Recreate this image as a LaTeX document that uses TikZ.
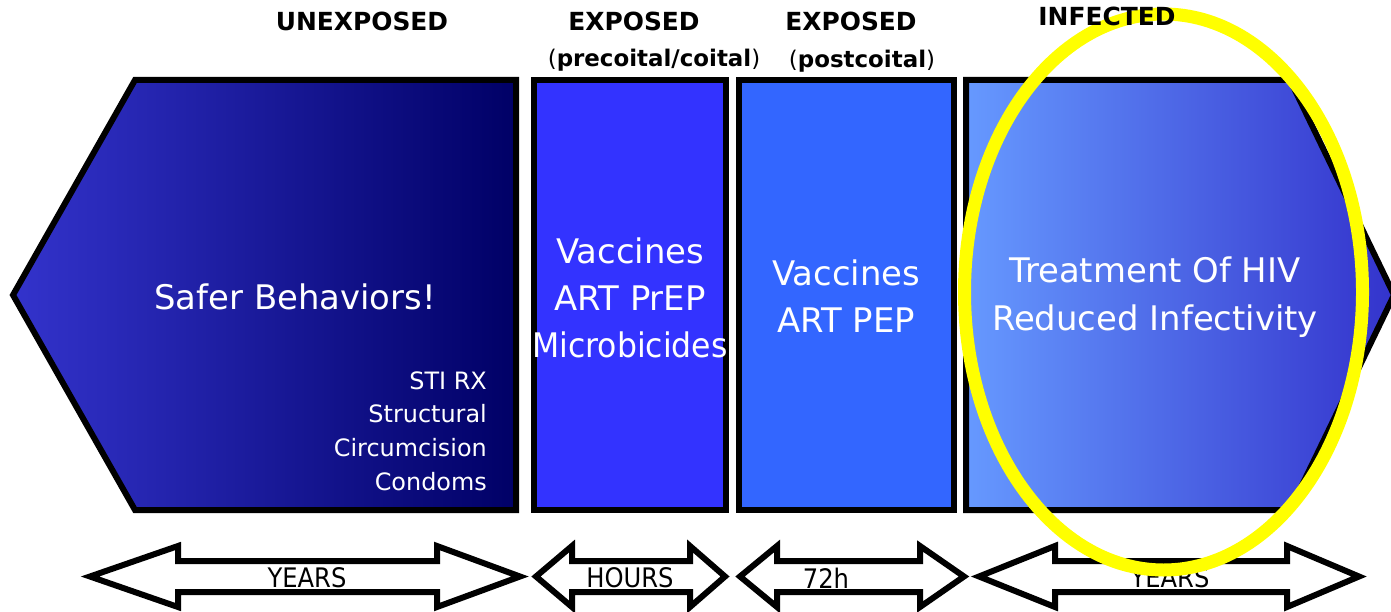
\documentclass[tikz,border=0pt]{standalone}
\usepackage{fontspec}
\setmainfont{DejaVu Sans}
\newfontfamily\condfont{DejaVu Sans Condensed}
\usepackage{tikz}

\definecolor{boxAleft}{HTML}{3333CC}
\definecolor{boxAright}{HTML}{000066}
\definecolor{boxB}{HTML}{3333FF}
\definecolor{boxC}{HTML}{3366FF}
\definecolor{boxDleft}{HTML}{6699FF}
\definecolor{boxDright}{HTML}{3333CC}
\definecolor{marker}{HTML}{FFFF00}

\begin{document}
\begin{tikzpicture}[x=1bp, y=-1bp, line join=miter]
  % Define styles
  \tikzstyle{stage} = [draw=black, line width=6bp]
  \tikzstyle{period} = [draw=black, fill=white, line width=6bp]
  \tikzstyle{phase} = [font=\fontsize{25}{28}\selectfont\bfseries]
  \tikzstyle{when} = [font=\fontsize{23}{26}\selectfont\bfseries]
  \tikzstyle{bigtext} = [text=white, align=center, inner sep=0pt, font=\fontsize{34}{47.5}\selectfont]
  \tikzstyle{listtext} = [text=white, align=right, inner sep=0pt, font=\fontsize{24}{33.7}\selectfont]
  \tikzstyle{spanlabel} = [inner sep=0pt, font=\condfont\fontsize{27}{30}\selectfont]

  \useasboundingbox (0,0) rectangle (1391,612);

  % Unexposed
  \draw[stage, left color=boxAleft, middle color=boxAleft!92!boxAright, right color=boxAright] (516,80) -- (135,80) -- (13,295) -- (135,510) -- (516,510) -- cycle;
  \node[bigtext] (safer) at (295,297) {Safer Behaviors!};
  \node[listtext, anchor=east] (other) at (487,431) {STI RX\\Structural\\Circumcision\\Condoms};

  % Exposed (precoital/coital)
  \draw[stage, fill=boxB] (534,80) rectangle (726,510);
  \node[bigtext] (prep) at (630,298) {Vaccines\\ART PrEP\\\scalebox{0.93}[1]{Microbicides}};

  % Exposed (postcoital)
  \draw[stage, fill=boxC] (739,80) rectangle (954,510);
  \node[bigtext] (pep) at (846,296) {Vaccines\\ART PEP};

  % Infected
  \draw[stage, left color=boxDleft, middle color=boxDleft!85!boxDright, right color=boxDright] (966,80) -- (1290,80) -- (1394,295) -- (1290,510) -- (966,510) -- cycle;
  \node[bigtext] (treat) at (1155,297) {Treatment Of HIV\\Reduced Infectivity};

  % Phase titles
  \node[phase] (unexp) at (362,21) {UNEXPOSED};
  \node[phase] (expA) at (634,21) {EXPOSED};
  \node[when] (expAsub) at (654,60) {{\mdseries(}precoital/coital{\mdseries)}};
  \node[phase] (expB) at (851,21) {EXPOSED};
  \node[when] (expBsub) at (862,61) {{\mdseries(}postcoital{\mdseries)}};

  % Time spans
  \foreach \lt/\lb/\rb/\rt/\lx/\txt/\nm in {90/178/437/520/307/YEARS/spanA,
      536/572/690/725/630/HOURS/spanB,
      740/777/920/964/826/72h/spanC,
      979/1055/1287/1359/1170/YEARS/spanD} {
    \draw[period] (\lt,576.5) -- (\lb,546) -- (\lb,561) -- (\rb,561) -- (\rb,546) -- (\rt,576.5)
      -- (\rb,607) -- (\rb,592) -- (\lb,592) -- (\lb,607) -- cycle;
    \node[spanlabel] (\nm) at (\lx,578) {\txt};
  }

  % Highlight
  \draw[marker, line width=13bp] (1163.5,292) ellipse [x radius=199, y radius=278];
  \node[phase] (infected) at (1107,16) {INFECTED};

\end{tikzpicture}
\end{document}
